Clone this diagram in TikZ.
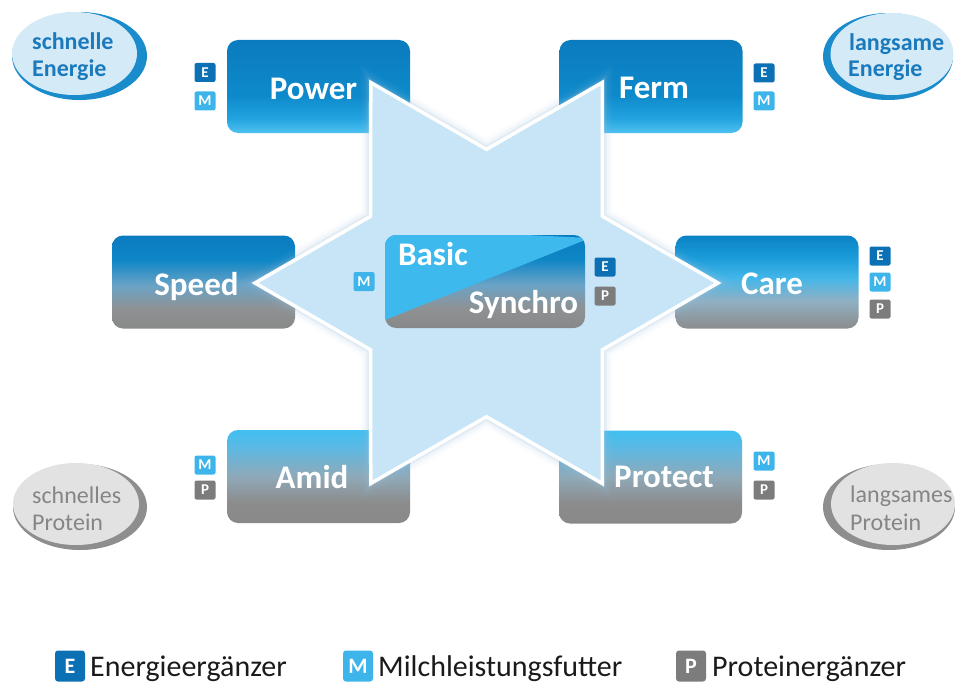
\documentclass[tikz,border=0pt]{standalone}
\usepackage{fontspec}
\setmainfont{Carlito}
\usetikzlibrary{calc}
\definecolor{eblue}{HTML}{0B70B4}
\definecolor{mblue}{HTML}{3DB5EA}
\definecolor{pgray}{HTML}{7C7C7C}
\definecolor{enfill}{HTML}{D5EAF7}
\definecolor{encres}{HTML}{1A8BCB}
\definecolor{entext}{HTML}{1A7ABB}
\definecolor{prfill}{HTML}{E2E2E2}
\definecolor{prcres}{HTML}{8E8E8E}
\definecolor{prtext}{HTML}{858585}
\definecolor{starfill}{HTML}{C8E5F7}
\definecolor{glowc}{HTML}{9FC3DC}
\definecolor{lbasic}{HTML}{3DB9EE}
\definecolor{legtext}{HTML}{1A1A1A}
% shading colours
\definecolor{pwA}{HTML}{0B7BBE}\definecolor{pwB}{HTML}{0D8ACB}\definecolor{pwC}{HTML}{22A3DF}\definecolor{pwD}{HTML}{4FC1F0}
\definecolor{spA}{HTML}{0A7BBF}\definecolor{spB}{HTML}{0E86C6}\definecolor{spC}{HTML}{6BA3C6}\definecolor{spD}{HTML}{8E9295}\definecolor{spE}{HTML}{888888}
\definecolor{caA}{HTML}{0A82C5}\definecolor{caB}{HTML}{1C9CDA}\definecolor{caC}{HTML}{45B7E9}\definecolor{caD}{HTML}{8FB0C4}\definecolor{caE}{HTML}{8C8C8C}
\definecolor{amA}{HTML}{40BFF1}\definecolor{amB}{HTML}{5BB9E4}\definecolor{amC}{HTML}{8FA9B8}\definecolor{amD}{HTML}{8C8C8C}\definecolor{amE}{HTML}{898989}
\pgfdeclareverticalshading{pwshade}{100bp}{color(0bp)=(pwD); color(25bp)=(pwD); color(33bp)=(pwC); color(45bp)=(pwB); color(75bp)=(pwA); color(100bp)=(pwA)}
\pgfdeclareverticalshading{spshade}{100bp}{color(0bp)=(spE); color(25bp)=(spE); color(36bp)=(spD); color(48bp)=(spC); color(62bp)=(spB); color(75bp)=(spA); color(100bp)=(spA)}
\pgfdeclareverticalshading{cashade}{100bp}{color(0bp)=(caE); color(25bp)=(caE); color(40bp)=(caD); color(52bp)=(caC); color(63bp)=(caB); color(75bp)=(caA); color(100bp)=(caA)}
\pgfdeclareverticalshading{amshade}{100bp}{color(0bp)=(amE); color(25bp)=(amE); color(36bp)=(amD); color(50bp)=(amC); color(66bp)=(amB); color(75bp)=(amA); color(100bp)=(amA)}
\begin{document}
\begin{tikzpicture}[x=1pt,y=-1pt,
  box/.style={rounded corners=11pt, minimum width=183pt, minimum height=93pt, inner sep=0pt, shade, shading=#1},
  boxtext/.style={font=\fontsize{33}{33}\selectfont\bfseries, text=white, anchor=base, inner sep=0pt},
  badge/.style={minimum width=21pt, minimum height=19pt, inner sep=0pt, rounded corners=2pt, fill=#1, text=white, font=\fontsize{15}{15}\selectfont\bfseries},
  legbadge/.style={minimum width=30pt, minimum height=31pt, inner sep=0pt, rounded corners=3pt, fill=#1, text=white, font=\fontsize{22}{22}\selectfont\bfseries},
  legtxt/.style={anchor=base west, inner sep=0pt, text=legtext, font=\fontsize{30}{30}\selectfont},
  entxt/.style={anchor=base west, inner sep=0pt, text=entext, font=\fontsize{24}{24}\selectfont\bfseries},
  prtxt/.style={anchor=base west, inner sep=0pt, text=prtext, font=\fontsize{24}{24}\selectfont},
]
\useasboundingbox (0,0) rectangle (955,682);
% ellipses
\fill[encres] (79.5,56) ellipse [x radius=67.5, y radius=44];
\fill[enfill] (74.5,53.5) ellipse [x radius=62.5, y radius=41.5];
\fill[encres] (888,56.5) ellipse [x radius=65, y radius=43.5];
\fill[enfill] (892,54) ellipse [x radius=61.5, y radius=41];
\fill[prcres] (80,507) ellipse [x radius=67, y radius=43];
\fill[prfill] (76,504) ellipse [x radius=63, y radius=41];
\fill[prcres] (889,507) ellipse [x radius=66, y radius=43];
\fill[prfill] (893,504) ellipse [x radius=62, y radius=41];
\node[entxt] (t1a) at (32,50) {schnelle};
\node[entxt] (t1b) at (32,77) {Energie};
\node[entxt] (t2a) at (849,51) {langsame};
\node[entxt] (t2b) at (848,77) {Energie};
\node[prtxt] (t3a) at (32,503) {schnelles};
\node[prtxt] (t3b) at (32,530) {Protein};
\node[prtxt] (t4a) at (850,502) {langsames};
\node[prtxt] (t4b) at (850,530) {Protein};
% boxes
\node[box=pwshade] (power) at (318.5,86.5) {};
\node[box=pwshade] (ferm) at (651,86.5) {};
\node[box=spshade] (speed) at (203.5,282) {};
\node[box=cashade] (care) at (767,282) {};
\node[box=amshade] (amid) at (318.5,476.5) {};
\node[box=amshade] (protect) at (650.5,477) {};
\node[boxtext] (powert) at (313.5,100) {Power};
\node[boxtext] (fermt) at (654,99) {Ferm};
\node[boxtext] (speedt) at (196.5,295) {Speed};
\node[boxtext] (caret) at (772,294) {Care};
\node[boxtext] (amidt) at (312,488) {Amid};
\node[boxtext] (protectt) at (664,487) {Protect};
% star
\begin{scope}[shift={(486.5,283)}]
\foreach \w/\o in {20/0.05, 14/0.08, 9/0.12, 6/0.18}{
  \draw[glowc, line width=\w pt, opacity=\o, line join=miter] (0:231.5) -- (30:133.7) -- (60:231.5) -- (90:133.7) -- (120:231.5) -- (150:133.7) -- (180:231.5) -- (210:133.7) -- (240:231.5) -- (270:133.7) -- (300:231.5) -- (330:133.7) -- cycle;
}
\draw[white, line width=3.5pt, fill=starfill, line join=miter] (0:231.5) -- (30:133.7) -- (60:231.5) -- (90:133.7) -- (120:231.5) -- (150:133.7) -- (180:231.5) -- (210:133.7) -- (240:231.5) -- (270:133.7) -- (300:231.5) -- (330:133.7) -- cycle;
\end{scope}
% basic / synchro
\node[box=spshade, minimum width=200pt] (basic) at (485,281.5) {};
\begin{scope}
\clip[rounded corners=11pt] (385,235) rectangle (585,328);
\fill[lbasic] (380,322) -- (590,238) -- (380,228) -- cycle;
\end{scope}
\node[boxtext] (basict) at (433,265) {Basic};
\node[boxtext] (synchrot) at (523.5,313) {Synchro};
% badges
\node[badge=eblue] (bpe) at (205,72.5) {E};
\node[badge=mblue] (bpm) at (205,101) {M};
\node[badge=eblue] (bfe) at (764,73) {E};
\node[badge=mblue] (bfm) at (764,101) {M};
\node[badge=mblue] (bbm) at (364,281.5) {M};
\node[badge=eblue] (bbe) at (605,267) {E};
\node[badge=pgray] (bbp) at (605,296) {P};
\node[badge=eblue] (bce) at (880,256) {E};
\node[badge=mblue] (bcm) at (880,282) {M};
\node[badge=pgray] (bcp) at (880,309) {P};
\node[badge=mblue] (bam) at (205,465) {M};
\node[badge=pgray] (bap) at (205,490) {P};
\node[badge=mblue] (bprm) at (764,461) {M};
\node[badge=pgray] (bprp) at (764,490) {P};
% legend
\node[legbadge=eblue] (le) at (70,666) {E};
\node[legtxt] (let) at (90,676) {Energieergänzer};
\node[legbadge=mblue] (lm) at (358,666) {M};
\node[legtxt] (lmt) at (378,676) {Milchleistungsfutter};
\node[legbadge=pgray] (lp) at (691,666) {P};
\node[legtxt] (lpt) at (712,676) {Proteinergänzer};
\end{tikzpicture}
\end{document}
